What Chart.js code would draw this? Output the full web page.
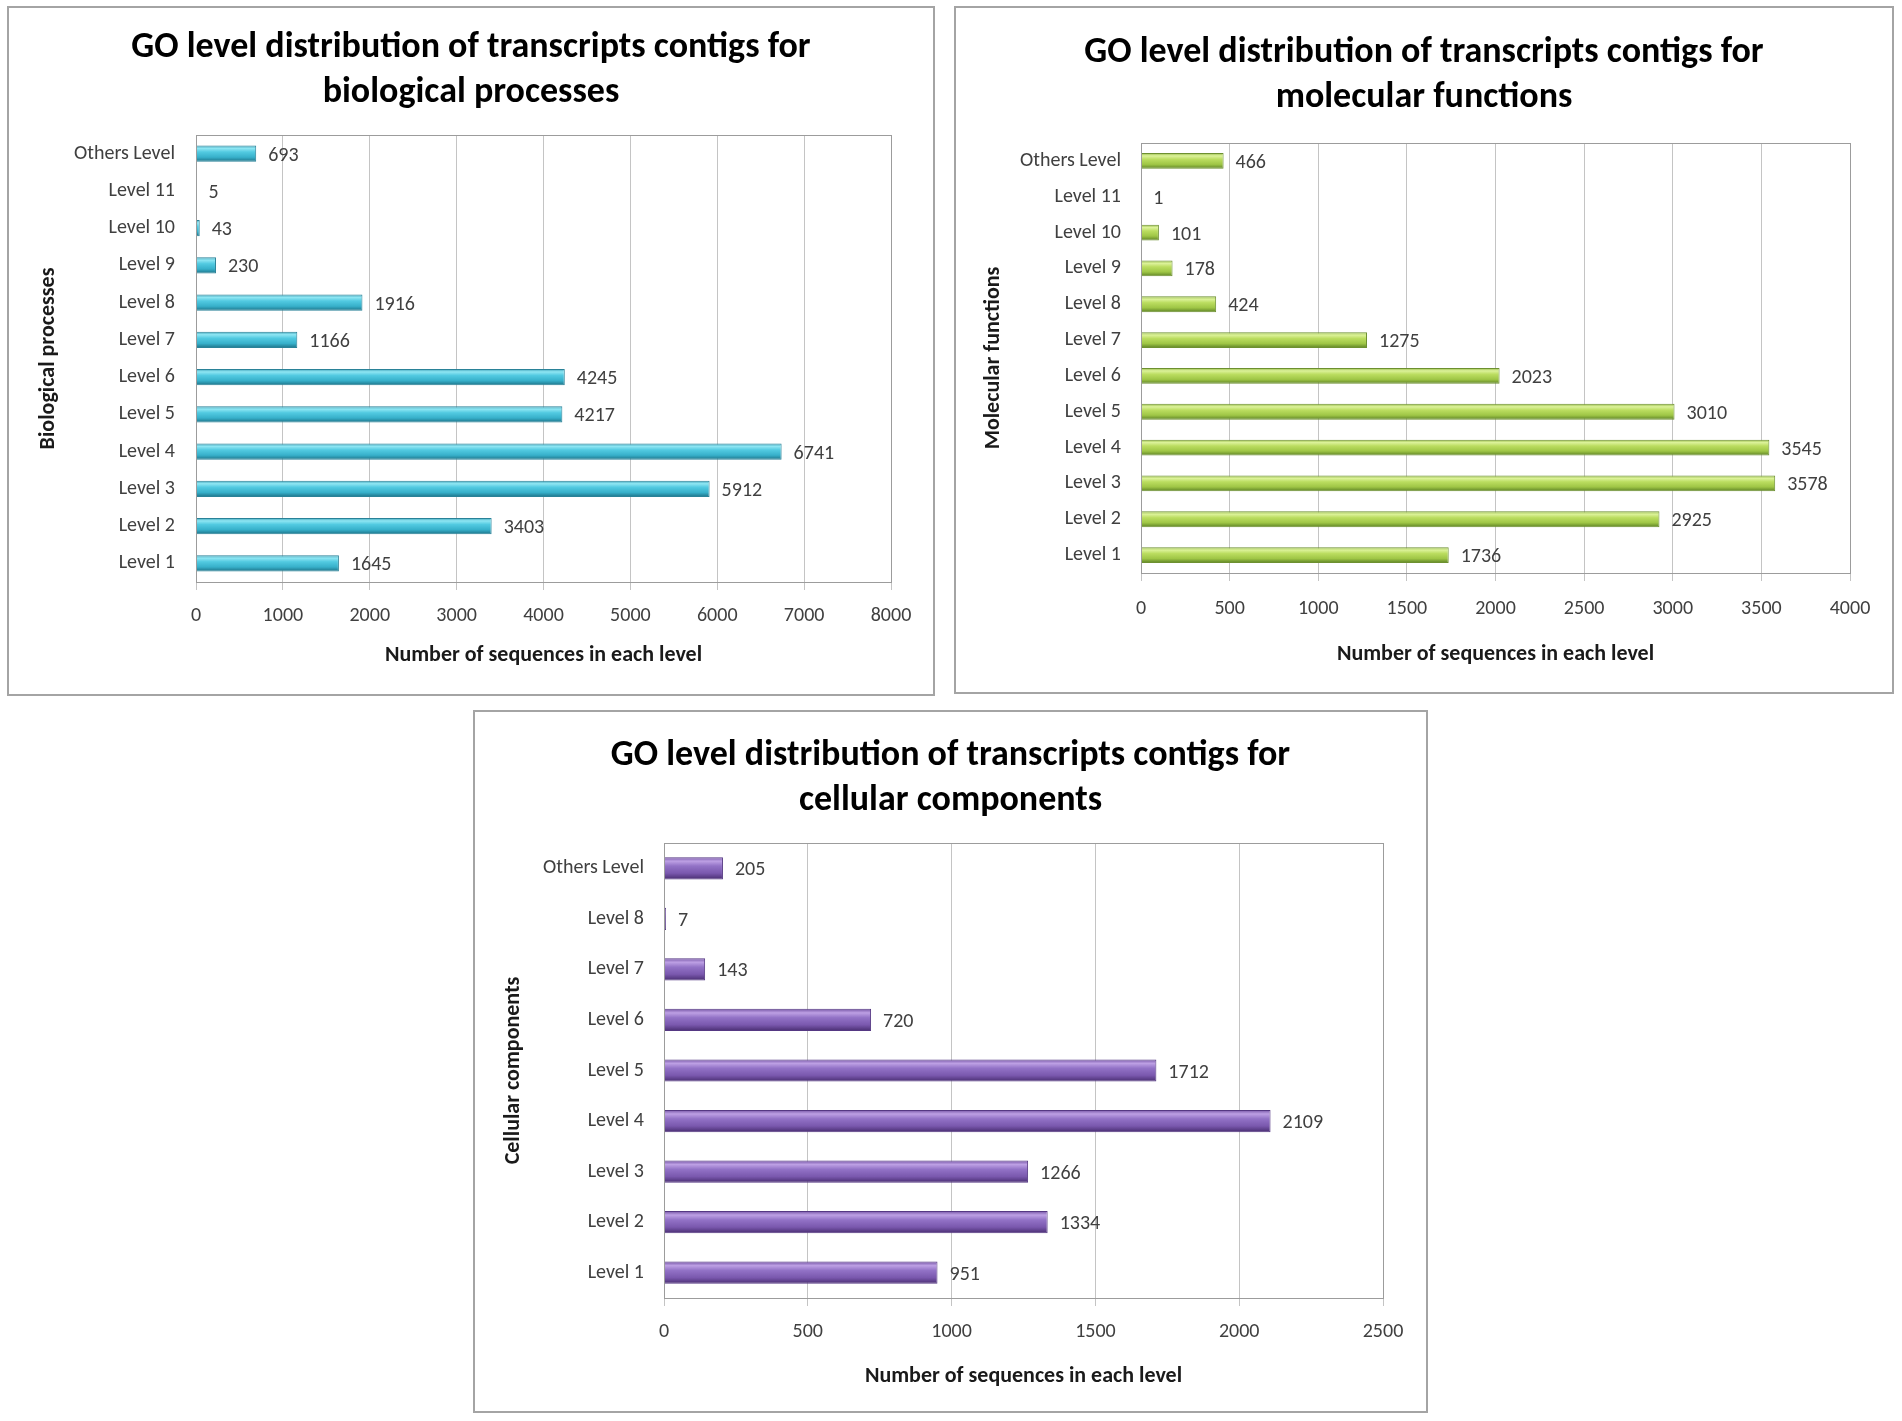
<!DOCTYPE html>
<html>
<head>
<meta charset="utf-8">
<script src="https://cdn.jsdelivr.net/npm/chart.js@4.4.1/dist/chart.umd.min.js"></script>
<style>
  body { margin: 0; background: #fff; width: 1902px; height: 1421px; position: relative; overflow: hidden; }
  .panel { position: absolute; box-sizing: border-box; border: 2px solid #a4a4a4; background: #fff; }
  .panel canvas { display: block; }
</style>
</head>
<body>
<div class="panel" id="p1" style="left:7px;top:6px;width:928px;height:690px"><canvas id="bpChart"></canvas></div>
<div class="panel" id="p2" style="left:954px;top:6px;width:940px;height:688px"><canvas id="mfChart"></canvas></div>
<div class="panel" id="p3" style="left:473px;top:710px;width:955px;height:703px"><canvas id="ccChart"></canvas></div>
<script>
// categories, top to bottom as drawn
const bpLevels = ['Others Level', 'Level 11', 'Level 10', 'Level 9', 'Level 8', 'Level 7',
                  'Level 6', 'Level 5', 'Level 4', 'Level 3', 'Level 2', 'Level 1'];
const bpCounts = [693, 5, 43, 230, 1916, 1166, 4245, 4217, 6741, 5912, 3403, 1645];

const mfLevels = bpLevels;
const mfCounts = [466, 1, 101, 178, 424, 1275, 2023, 3010, 3545, 3578, 2925, 1736];

const ccLevels = ['Others Level', 'Level 8', 'Level 7', 'Level 6', 'Level 5',
                  'Level 4', 'Level 3', 'Level 2', 'Level 1'];
const ccCounts = [205, 7, 143, 720, 1712, 2109, 1266, 1334, 951];

// x axis min / max / step
const bpTicks = [0, 8000, 1000];
const mfTicks = [0, 4000, 500];
const ccTicks = [0, 2500, 500];

const FONT = 'Carlito, Lato, sans-serif';
const BAR_PCT = 0.44;

// cylinder-ish shading across each bar
function barFill(stops) {
  return function (ctx) {
    const chart = ctx.chart;
    const ys = chart.scales.y;
    if (!ys || ctx.type !== 'data') return stops[2];
    const c = ys.getPixelForValue(ctx.dataIndex);
    const half = ys.height / chart.data.labels.length * BAR_PCT / 2;
    if (!isFinite(c) || !isFinite(half) || half <= 0) return stops[2];
    const g = chart.ctx.createLinearGradient(0, c - half, 0, c + half);
    g.addColorStop(0, stops[0]);
    g.addColorStop(0.18, stops[1]);
    g.addColorStop(0.4, stops[2]);
    g.addColorStop(0.72, stops[3]);
    g.addColorStop(1, stops[4]);
    return g;
  };
}

const valueLabels = {
  id: 'valueLabels',
  afterDatasetsDraw(chart) {
    const ctx = chart.ctx;
    const meta = chart.getDatasetMeta(0);
    const vals = chart.data.datasets[0].data;
    ctx.save();
    ctx.font = '20px ' + FONT;
    ctx.fillStyle = '#404040';
    ctx.textBaseline = 'middle';
    meta.data.forEach((bar, i) => ctx.fillText(String(vals[i]), bar.x + 12, bar.y + 2));
    ctx.restore();
  }
};

const plotFrame = {
  id: 'plotFrame',
  afterDraw(chart) {
    const a = chart.chartArea;
    const ctx = chart.ctx;
    ctx.save();
    ctx.strokeStyle = '#9c9c9c';
    ctx.lineWidth = 1;
    ctx.strokeRect(Math.round(a.left) + 0.5, Math.round(a.top) + 0.5,
                   Math.round(a.right - a.left), Math.round(a.bottom - a.top));
    ctx.restore();
  }
};

function makeChart(id, panel, labels, counts, ticks, colors, edge, titleLines, yTitle, lay) {
  const box = document.getElementById(panel);
  const cv = document.getElementById(id);
  cv.width = box.clientWidth;
  cv.height = box.clientHeight;
  return new Chart(cv, {
    type: 'bar',
    data: {
      labels: labels,
      datasets: [{
        data: counts,
        backgroundColor: barFill(colors),
        borderColor: edge,
        borderWidth: 1,
        barPercentage: BAR_PCT,
        categoryPercentage: 1
      }]
    },
    options: {
      indexAxis: 'y',
      responsive: false,
      animation: false,
      devicePixelRatio: 1,
      layout: { padding: 0 },
      plugins: {
        legend: { display: false },
        tooltip: { enabled: false },
        title: {
          display: true,
          text: titleLines,
          color: '#000',
          font: { family: FONT, size: 36, weight: 'bold', lineHeight: 1.25 },
          padding: { top: lay.titleTop, bottom: lay.titleBottom }
        }
      },
      scales: {
        x: {
          min: ticks[0],
          max: ticks[1],
          afterFit: s => { s.height = lay.xH; },
          ticks: {
            stepSize: ticks[2],
            padding: lay.xPad,
            color: '#404040',
            font: { family: FONT, size: 20 },
            callback: v => String(v)
          },
          grid: { color: '#c4c4c4', lineWidth: 1, tickLength: 8, tickColor: '#c4c4c4' },
          border: { display: true, color: '#9c9c9c' },
          title: {
            display: true,
            text: 'Number of sequences in each level',
            color: '#1a1a1a',
            font: { family: FONT, size: 22, weight: 'bold' },
            padding: { top: 0, bottom: lay.xTitleBottom }
          }
        },
        y: {
          afterFit: s => { s.width = lay.yW; },
          ticks: { padding: lay.yPad, color: '#404040', font: { family: FONT, size: 20 } },
          grid: { display: false, drawTicks: false },
          border: { display: true, color: '#9c9c9c' },
          title: {
            display: true,
            text: yTitle,
            color: '#1a1a1a',
            font: { family: FONT, size: 22, weight: 'bold' },
            padding: { top: lay.yTitleTop, bottom: 0 }
          }
        },
        // empty right-hand axis: keeps the gap right of the plot without shifting the title
        gap: {
          axis: 'y',
          position: 'right',
          afterFit: s => { s.width = lay.right; },
          ticks: { display: false },
          grid: { display: false, drawTicks: false },
          border: { display: false }
        }
      }
    },
    plugins: [valueLabels, plotFrame]
  });
}

const teal = ['#3a9fb6', '#8fe6f3', '#52cae1', '#37b0ca', '#1c7085'];
const green = ['#94b946', '#dcf29a', '#bbdd60', '#9fc646', '#5c8125'];
const purple = ['#7453a4', '#bda0e4', '#9272c6', '#7a58ae', '#482d70'];

makeChart('bpChart', 'p1', bpLevels, bpCounts, bpTicks, teal, '#2a8298',
  ['GO level distribution of transcripts contigs for', 'biological processes'], 'Biological processes',
  { right: 42, titleTop: 17, titleBottom: 20, xH: 112, xPad: 14, xTitleBottom: 25, yW: 187, yPad: 21, yTitleTop: 26 });

makeChart('mfChart', 'p2', mfLevels, mfCounts, mfTicks, green, '#6d9030',
  ['GO level distribution of transcripts contigs for', 'molecular functions'], 'Molecular functions',
  { right: 42, titleTop: 22, titleBottom: 23, xH: 119, xPad: 16, xTitleBottom: 24, yW: 185, yPad: 20, yTitleTop: 24 });

makeChart('ccChart', 'p3', ccLevels, ccCounts, ccTicks, purple, '#553883',
  ['GO level distribution of transcripts contigs for', 'cellular components'], 'Cellular components',
  { right: 43, titleTop: 21, titleBottom: 20, xH: 113, xPad: 14, xTitleBottom: 21, yW: 189, yPad: 20, yTitleTop: 25 });
</script>
</body>
</html>
